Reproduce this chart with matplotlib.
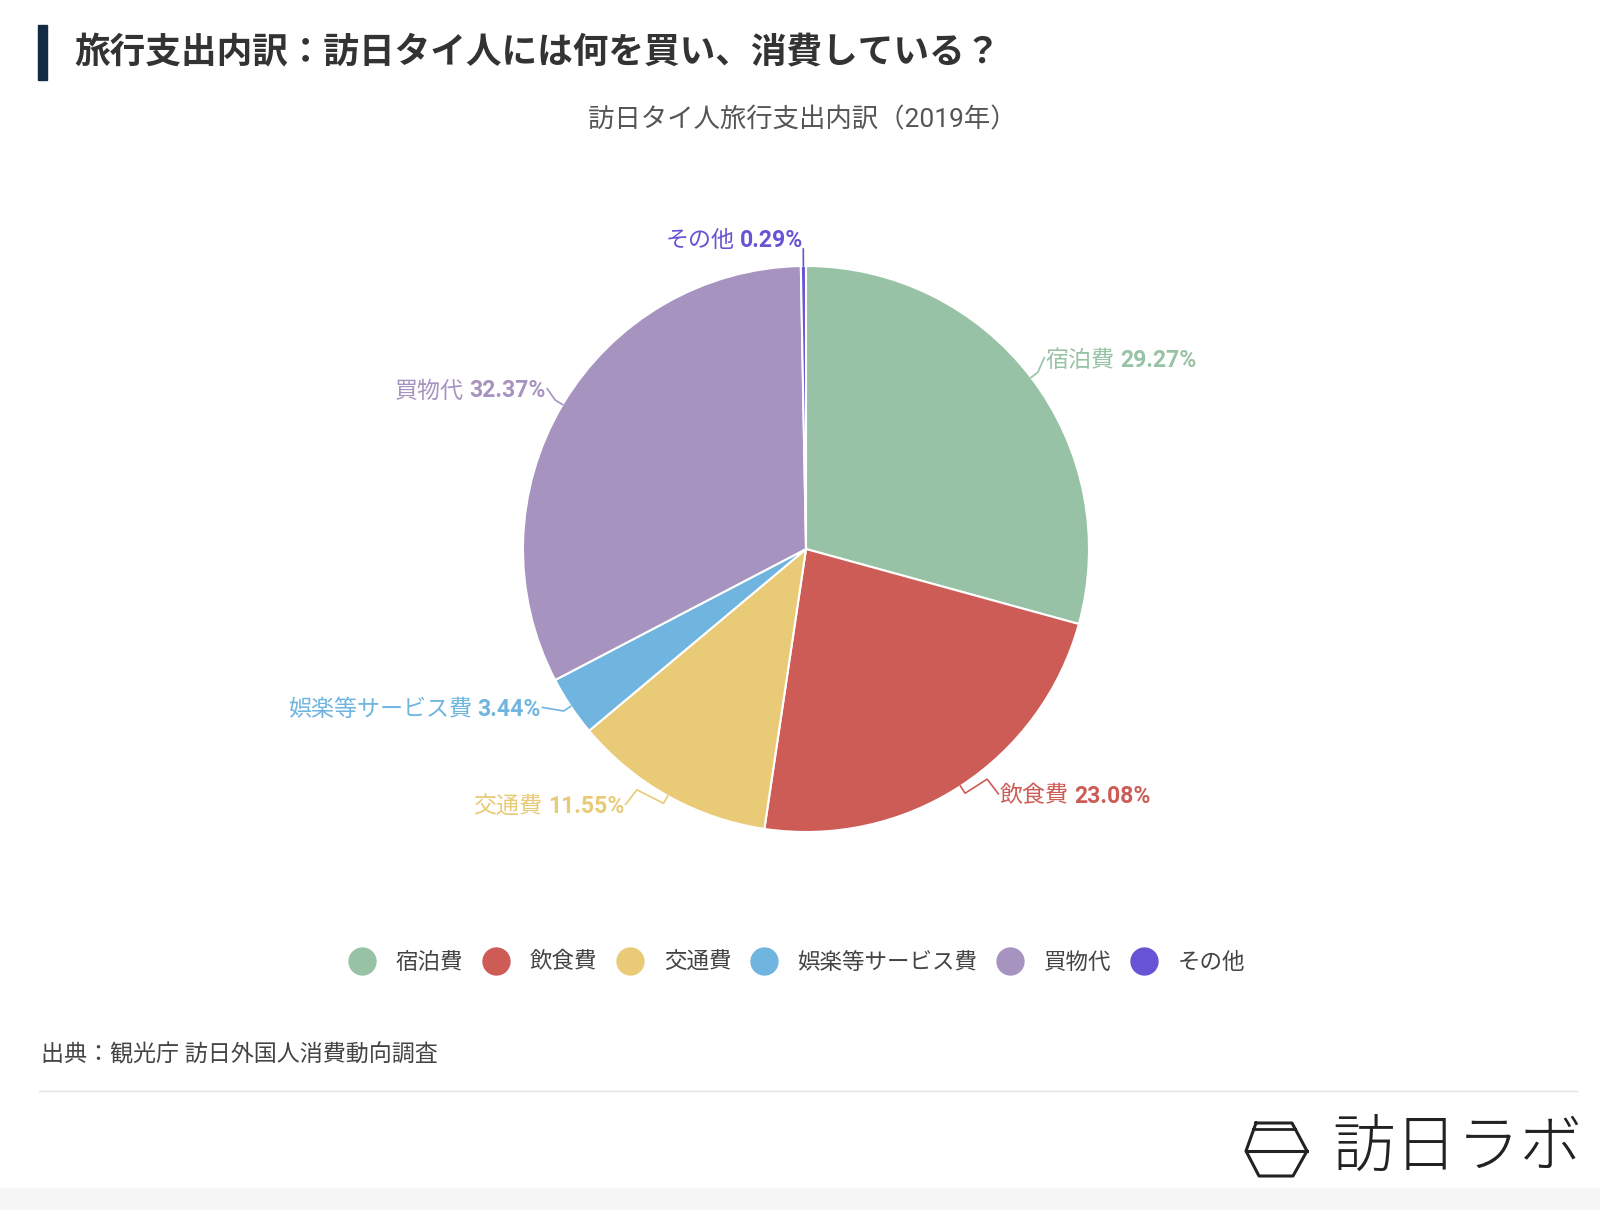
import matplotlib
matplotlib.use("Agg")
import numpy as np
import matplotlib.pyplot as plt
from matplotlib.transforms import Affine2D
from matplotlib.lines import Line2D
from matplotlib.patches import Rectangle
from matplotlib.offsetbox import TextArea, HPacker, AnnotationBbox

plt.rcParams['font.family'] = ['Roboto', 'Noto Sans CJK JP', 'DejaVu Sans']

# データ（2019年 訪日タイ人の旅行支出内訳, %）
categories = ["宿泊費", "飲食費", "交通費", "娯楽等サービス費", "買物代", "その他"]
shares = [29.27, 23.08, 11.55, 3.44, 32.37, 0.29]
colors = ["#97c2a5", "#cd5c57", "#e9cb77", "#6fb5e0", "#a693c0", "#6654d4"]

title = "旅行支出内訳：訪日タイ人には何を買い、消費している？"
subtitle = "訪日タイ人旅行支出内訳（2019年）"
source = "出典：観光庁 訪日外国人消費動向調査"
logo_text = "訪日ラボ"

# ラベル位置の微調整（半径単位, レイアウト用）
label_offsets = [(-0.02, 0.007), (0.09, 0.04), (-0.11, 0.04),
                 (-0.03, 0.038), (0.018, 0.002), (0.0, 0.0)]

W, H = 1600, 1210
fig = plt.figure(figsize=(W / 100, H / 100), dpi=100)
fig.patch.set_facecolor("white")
# ピクセル座標（左上原点）
px = Affine2D().scale(1 / W, -1 / H).translate(0, 1) + fig.transFigure

# タイトル
fig.patches.append(Rectangle((38, 25), 9, 55, transform=px, color="#132a45"))
fig.text(74, 52, title, transform=px, fontsize=25.7, fontweight="bold",
         color="#333333", va="center", ha="left")
fig.text(802, 120, subtitle, transform=px, fontsize=19,
         color="#555555", va="center", ha="center")

# 円グラフ
cx, cy, r = 806, 549, 283
ax = fig.add_axes([(cx - r) / W, (H - cy - r) / H, 2 * r / W, 2 * r / H])
wedges, _ = ax.pie(shares, colors=colors, startangle=90, counterclock=False,
                   radius=1, wedgeprops=dict(edgecolor="white", linewidth=1.5))
ax.set_xlim(-1, 1)
ax.set_ylim(-1, 1)
ax.axis("off")

for w, name, val, c, (ox, oy) in zip(wedges, categories, shares, colors, label_offsets):
    th = np.deg2rad((w.theta1 + w.theta2) / 2)
    x, y = np.cos(th), np.sin(th)
    side = 1 if x >= 0 else -1
    if abs(x) < 0.1:
        # 上端の細いスライス：垂直の引出線
        lx, ly = [x, 1.06 * x], [y, 1.06 * y]
        tx, ty = 1.09 * x, 1.09 * y
    else:
        tx, ty = 1.09 * x + ox, 1.09 * y + oy
        lx, ly = [x, 1.03 * x], [y, 1.03 * y]
        if y < 0 and abs(ox) > 0.05:
            lx.append(tx - side * 0.045)
            ly.append(ty + 0.06)
        lx.append(tx - side * 0.005)
        ly.append(ty + 0.008)
    ax.plot(lx, ly, color=c, lw=1.2, clip_on=False)
    box = HPacker(children=[
        TextArea(name, textprops=dict(color=c, fontsize=16.6)),
        TextArea(f"{val:.2f}%", textprops=dict(color=c, fontsize=16.6, fontweight="bold")),
    ], sep=4, pad=0, align="baseline")
    ab = AnnotationBbox(box, (tx, ty), xycoords="data",
                        box_alignment=(0 if side > 0 else 1, 0.5), frameon=False,
                        pad=0, annotation_clip=False)
    ax.add_artist(ab)

# 凡例
handles = [Line2D([], [], marker="o", linestyle="", markersize=19.4,
                  markerfacecolor=c, markeredgecolor=c) for c in colors]
fig.legend(handles, categories, loc="center", bbox_to_anchor=(797, 963),
           bbox_transform=px, ncol=6, frameon=False, fontsize=16.2,
           handlelength=1.2, handletextpad=0.9, columnspacing=0.85,
           labelcolor="#444444")

# 出典・区切り線
fig.text(41, 1055, source, transform=px, fontsize=16.6, color="#444444",
         va="center", ha="left")
fig.lines.append(Line2D([39, 1577], [1091, 1091], transform=px,
                        color="#e2e2e2", lw=1))

# ロゴ
hx = [1256, 1292, 1307, 1293, 1259, 1246, 1256]
hy = [1123, 1123, 1151, 1176, 1176, 1151, 1123]
fig.lines.append(Line2D(hx, hy, transform=px, color="#222222", lw=2.2))
fig.lines.append(Line2D([1246, 1307], [1151, 1151], transform=px, color="#222222", lw=2.2))
fig.lines.append(Line2D([1253, 1295], [1129, 1129], transform=px, color="#222222", lw=2.0))
fig.text(1457, 1149, logo_text, transform=px, fontsize=45, fontweight="light",
         color="#222222", va="center", ha="center")

fig.patches.append(Rectangle((0, 1188), W, 22, transform=px, color="#f7f7f7", zorder=0))

fig.savefig("out.png", dpi=100, facecolor="white")
